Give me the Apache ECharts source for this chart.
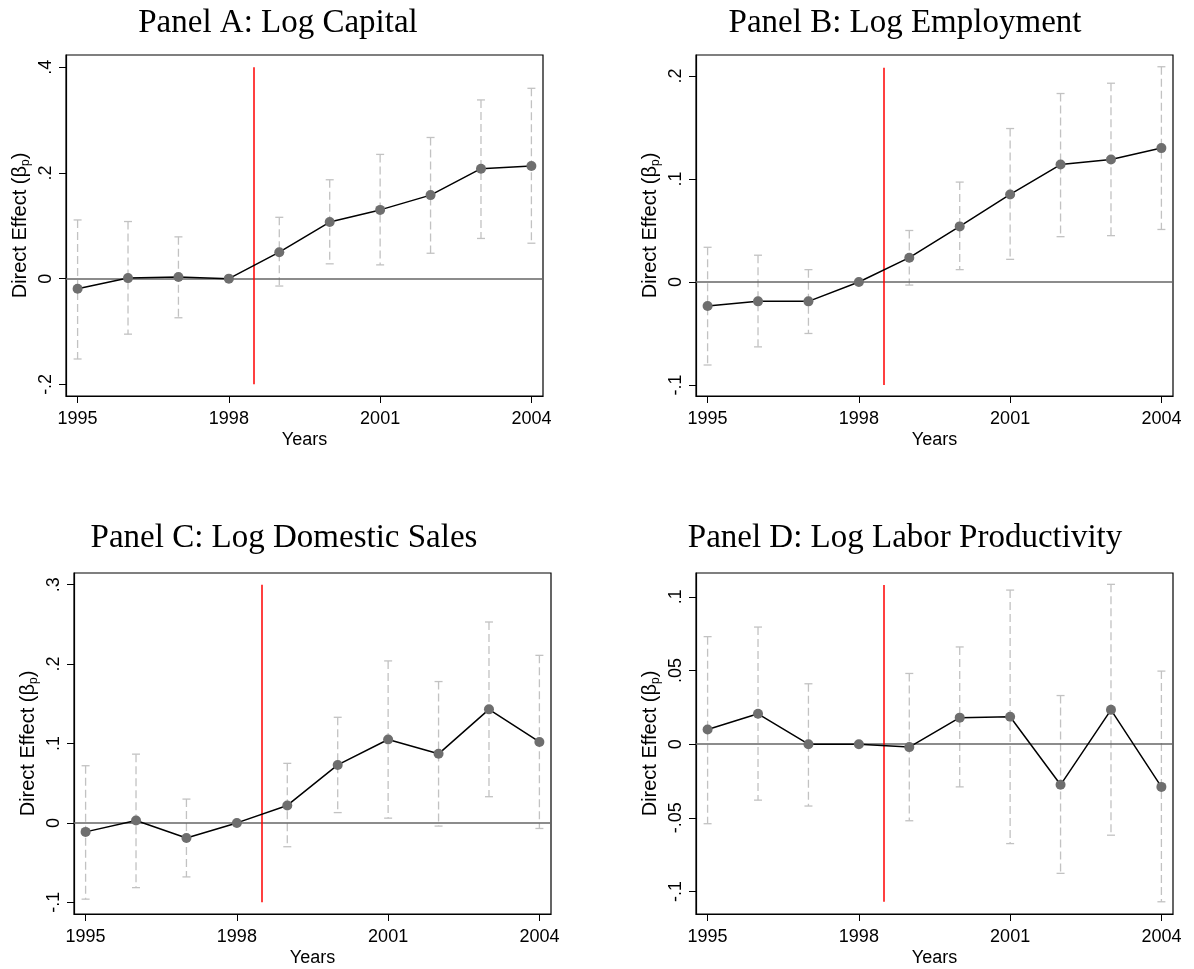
<!DOCTYPE html>
<html>
<head>
<meta charset="utf-8">
<script src="https://cdn.jsdelivr.net/npm/echarts@6/dist/echarts.min.js"></script>
<style>
html,body{margin:0;padding:0;background:#fff;}
#chart{width:1194px;height:969px;}
</style>
</head>
<body>
<div id="chart"></div>
<script>
// ---------------- DATA ----------------
const years = [1995, 1996, 1997, 1998, 1999, 2000, 2001, 2002, 2003, 2004];
const xTicks = [1995, 1998, 2001, 2004];
const eventYear = 1998.5;

const panelTitles = [
  'Panel A: Log Capital',
  'Panel B: Log Employment',
  'Panel C: Log Domestic Sales',
  'Panel D: Log Labor Productivity'
];

// Panel A: Log Capital
const capEst = [-0.019, 0.001, 0.003, 0, 0.050, 0.107, 0.130, 0.158, 0.208, 0.213];
const capHi  = [0.111, 0.108, 0.079, null, 0.116, 0.187, 0.235, 0.267, 0.338, 0.360];
const capLo  = [-0.152, -0.105, -0.074, null, -0.014, 0.028, 0.026, 0.048, 0.076, 0.067];
const capTicks = [-0.2, 0, 0.2, 0.4];
const capRange = [-0.222, 0.423];
const capRedLine = [-0.2, 0.4];

// Panel B: Log Employment
const empEst = [-0.0233, -0.0188, -0.0188, 0, 0.0236, 0.054, 0.085, 0.114, 0.119, 0.130];
const empHi  = [0.0337, 0.026, 0.012, null, 0.050, 0.097, 0.149, 0.183, 0.193, 0.209];
const empLo  = [-0.0806, -0.063, -0.050, null, -0.003, 0.012, 0.022, 0.044, 0.045, 0.051];
const empTicks = [-0.1, 0, 0.1, 0.2];
const empRange = [-0.1107, 0.2204];
const empRedLine = [-0.1, 0.208];

// Panel C: Log Domestic Sales
const salesEst = [-0.0113, 0.003, -0.019, 0, 0.022, 0.073, 0.105, 0.087, 0.143, 0.102];
const salesHi  = [0.072, 0.0866, 0.030, null, 0.075, 0.133, 0.204, 0.178, 0.253, 0.211];
const salesLo  = [-0.096, -0.0815, -0.068, null, -0.030, 0.013, 0.006, -0.004, 0.033, -0.007];
const salesTicks = [-0.1, 0, 0.1, 0.2, 0.3];
const salesRange = [-0.1147, 0.3147];
const salesRedLine = [-0.1, 0.3];

// Panel D: Log Labor Productivity
const prodEst = [0.010, 0.0206, 0, 0, -0.002, 0.018, 0.0186, -0.0276, 0.0233, -0.029];
const prodHi  = [0.073, 0.0795, 0.041, null, 0.048, 0.066, 0.1046, 0.033, 0.1085, 0.0496];
const prodLo  = [-0.054, -0.038, -0.042, null, -0.052, -0.029, -0.0675, -0.0877, -0.0618, -0.107];
const prodTicks = [-0.1, -0.05, 0, 0.05, 0.1];
const prodRange = [-0.1153, 0.1162];
const prodRedLine = [-0.107, 0.108];

const xRange = [1994.77, 2004.23];

// ---------------- LAYOUT ----------------
const panels = [
  {est: capEst, hi: capHi, lo: capLo, ticks: capTicks, range: capRange, red: capRedLine,
   grid: {left: 66, top: 55, width: 477, height: 341}, titleX: 278, titleY: 7},
  {est: empEst, hi: empHi, lo: empLo, ticks: empTicks, range: empRange, red: empRedLine,
   grid: {left: 696, top: 55, width: 477, height: 341}, titleX: 905, titleY: 7},
  {est: salesEst, hi: salesHi, lo: salesLo, ticks: salesTicks, range: salesRange, red: salesRedLine,
   grid: {left: 74, top: 573, width: 477, height: 341}, titleX: 284, titleY: 522},
  {est: prodEst, hi: prodHi, lo: prodLo, ticks: prodTicks, range: prodRange, red: prodRedLine,
   grid: {left: 696, top: 573, width: 477, height: 341}, titleX: 905, titleY: 522}
];

const sansFont = '"Liberation Sans", Arial, Helvetica, sans-serif';
const serifFont = '"Liberation Serif", "Times New Roman", serif';

function fmt(v) {
  if (Math.abs(v) < 1e-9) return '0';
  let s = String(+v.toFixed(4));
  return s.replace('0.', '.');
}

const option = {
  backgroundColor: '#fff',
  animation: false,
  title: [], grid: [], xAxis: [], yAxis: [], series: []
};

panels.forEach((p, i) => {
  option.title.push({
    text: panelTitles[i], left: p.titleX, top: p.titleY, textAlign: 'center', padding: 0,
    textStyle: {fontFamily: serifFont, fontWeight: 'normal', fontSize: 33, color: '#000'}
  });
  option.grid.push(Object.assign({show: true, borderColor: '#000', borderWidth: 1.2, backgroundColor: '#fff'}, p.grid));
  option.xAxis.push({
    gridIndex: i, type: 'value', min: xRange[0], max: xRange[1],
    axisLine: {show: true, onZero: false, lineStyle: {color: '#000', width: 1.2}},
    axisTick: {show: true, customValues: xTicks, length: 7, lineStyle: {color: '#000', width: 1}},
    axisLabel: {customValues: xTicks, fontSize: 18, color: '#000', fontFamily: sansFont, margin: 14, formatter: v => String(v)},
    splitLine: {show: false},
    name: 'Years', nameLocation: 'middle', nameGap: 35,
    nameTextStyle: {fontSize: 18, color: '#000', fontFamily: sansFont}
  });
  option.yAxis.push({
    gridIndex: i, type: 'value', min: p.range[0], max: p.range[1],
    axisLine: {show: true, onZero: false, lineStyle: {color: '#000', width: 1.2}},
    axisTick: {show: true, customValues: p.ticks, length: 7, lineStyle: {color: '#000', width: 1}},
    axisLabel: {customValues: p.ticks, rotate: 90, fontSize: 18, color: '#000', fontFamily: sansFont, margin: 11, formatter: fmt},
    splitLine: {show: false},
    name: '{a|Direct Effect (β}{s|p}{a|)}', nameLocation: 'middle', nameGap: 34, nameRotate: 90,
    nameTextStyle: {
      rich: {
        a: {fontSize: 20, color: '#000', fontFamily: sansFont, lineHeight: 24},
        s: {fontSize: 12, color: '#000', fontFamily: sansFont, lineHeight: 24, verticalAlign: 'bottom', padding: [9, 0, 0, 0]}
      }
    }
  });

  // Error bars (dashed CI with caps)
  const ciData = years.map((y, k) => [y, p.lo[k], p.hi[k]]).filter(d => d[1] !== null);
  option.series.push({
    type: 'custom', xAxisIndex: i, yAxisIndex: i, z: 2, silent: true,
    data: ciData,
    encode: {x: 0, y: [1, 2]},
    renderItem: function (params, api) {
      const x = api.value(0);
      const lo = api.coord([x, api.value(1)]);
      const hi = api.coord([x, api.value(2)]);
      const cap = 4;
      const st = {stroke: '#c2c2c2', lineWidth: 1.3};
      return {
        type: 'group',
        children: [
          {type: 'line', shape: {x1: hi[0], y1: hi[1], x2: lo[0], y2: lo[1]}, style: Object.assign({lineDash: [8, 4]}, st)},
          {type: 'line', shape: {x1: hi[0] - cap, y1: hi[1], x2: hi[0] + cap, y2: hi[1]}, style: st},
          {type: 'line', shape: {x1: lo[0] - cap, y1: lo[1], x2: lo[0] + cap, y2: lo[1]}, style: st}
        ]
      };
    }
  });

  // Zero line and event line
  option.series.push({
    type: 'line', xAxisIndex: i, yAxisIndex: i, data: [], z: 3, silent: true,
    markLine: {
      silent: true, symbol: 'none', label: {show: false}, animation: false,
      data: [
        [{coord: [xRange[0], 0]}, {coord: [xRange[1], 0]}],
        [{coord: [eventYear, p.red[0]], lineStyle: {color: '#ff0000', width: 1.5, type: 'solid'}},
         {coord: [eventYear, p.red[1]]}]
      ],
      lineStyle: {color: '#666666', width: 1.6, type: 'solid'}
    }
  });

  // Point estimates
  option.series.push({
    type: 'line', xAxisIndex: i, yAxisIndex: i, z: 5, silent: true,
    data: years.map((y, k) => [y, p.est[k]]),
    symbol: 'circle', symbolSize: 10, showSymbol: true,
    itemStyle: {color: '#6e6e6e'},
    lineStyle: {color: '#000', width: 1.5}
  });
});

const chart = echarts.init(document.getElementById('chart'), null, {renderer: 'canvas'});
chart.setOption(option);
</script>
</body>
</html>
